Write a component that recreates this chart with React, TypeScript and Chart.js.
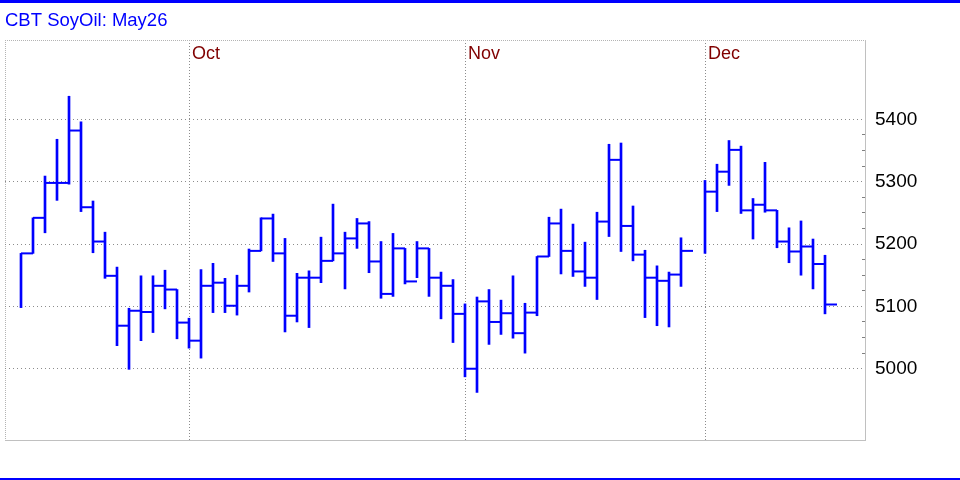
import { useEffect, useRef } from 'react';
import { Chart, registerables } from 'chart.js';

Chart.register(...registerables);

const chartTitle = 'CBT SoyOil: May26';

// One entry per trading-session slot; null marks the holiday gap.
const highs: (number | null)[] = [
  5185, 5242, 5309, 5368, 5437, 5396, 5269, 5219, 5163, 5097,
  5149, 5149, 5158, 5127, 5081, 5159, 5169, 5145, 5150, 5192,
  5242, 5248, 5209, 5153, 5157, 5211, 5264, 5219, 5241, 5236,
  5204, 5217, 5193, 5204, 5193, 5155, 5143, 5104, 5115, 5127,
  5110, 5149, 5105, 5180, 5243, 5256, 5232, 5203, 5251, 5360,
  5362, 5261, 5190, 5165, 5155, 5210, null, 5302, 5328, 5366,
  5357, 5273, 5331, 5254, 5226, 5237, 5208, 5182,
];
const lows: (number | null)[] = [
  5098, 5185, 5218, 5270, 5296, 5252, 5186, 5145, 5037, 4999,
  5045, 5058, 5096, 5048, 5033, 5017, 5090, 5090, 5086, 5123,
  5189, 5172, 5059, 5075, 5066, 5138, 5173, 5128, 5193, 5154,
  5113, 5116, 5136, 5146, 5116, 5080, 5042, 4987, 4962, 5039,
  5055, 5049, 5025, 5085, 5180, 5152, 5148, 5132, 5111, 5212,
  5188, 5173, 5082, 5069, 5067, 5132, null, 5185, 5252, 5294,
  5249, 5208, 5251, 5194, 5170, 5150, 5128, 5088,
];
const closes: (number | null)[] = [
  5185, 5242, 5298, 5298, 5382, 5259, 5204, 5149, 5069, 5093,
  5091, 5133, 5127, 5074, 5045, 5133, 5138, 5101, 5133, 5189,
  5241, 5185, 5085, 5146, 5146, 5173, 5185, 5209, 5233, 5172,
  5120, 5193, 5140, 5193, 5146, 5133, 5088, 5000, 5108, 5075,
  5089, 5057, 5090, 5180, 5233, 5189, 5156, 5146, 5236, 5335,
  5229, 5183, 5146, 5141, 5151, 5189, null, 5284, 5316, 5351,
  5254, 5263, 5254, 5204, 5188, 5196, 5168, 5103,
];

// Month start slots and their labels.
const monthSlots = [14, 37, 57];
const monthLabels = ['Oct', 'Nov', 'Dec'];

// Price axis labels.
const priceLabels = [5000, 5100, 5200, 5300, 5400];
const minorStep = 25;

const X_MIN = -4 / 3;
const X_MAX = 70.3333;
const Y_MIN = 4885.7;
const Y_MAX = 5527.2;

const BLUE = '#0000ff';

export default function App() {
  const canvasRef = useRef<HTMLCanvasElement | null>(null);

  useEffect(() => {
    document.body.style.margin = '0';
    const canvas = canvasRef.current;
    if (!canvas) return;

    Chart.defaults.font.family = "'Liberation Sans', Arial, sans-serif";

    const barPoints: { x: number; y: [number, number] }[] = [];
    const closePoints: { x: number; y: number }[] = [];
    highs.forEach((h, i) => {
      const l = lows[i];
      const c = closes[i];
      if (h == null || l == null || c == null) return;
      barPoints.push({ x: i, y: [l, h] });
      closePoints.push({ x: i + 0.5, y: c });
    });

    const yTickValues: number[] = [Y_MIN];
    for (let v = priceLabels[0]; v <= priceLabels[priceLabels.length - 1]; v += minorStep) {
      yTickValues.push(v);
    }
    yTickValues.push(Y_MAX);
    const xTickValues = [X_MIN, ...monthSlots];

    const chart = new Chart(canvas, {
      type: 'bar',
      data: {
        datasets: [
          {
            type: 'bar',
            data: barPoints as any,
            backgroundColor: BLUE,
            borderWidth: 0,
            barThickness: 2,
            xAxisID: 'x',
            yAxisID: 'y',
          } as any,
          {
            type: 'scatter',
            data: closePoints,
            pointStyle: 'line',
            pointRadius: 6,
            pointBorderColor: BLUE,
            pointBorderWidth: 2,
            pointBackgroundColor: BLUE,
            borderColor: BLUE,
            showLine: false,
            xAxisID: 'x',
            yAxisID: 'y',
          } as any,
        ],
      },
      options: {
        responsive: false,
        animation: false,
        devicePixelRatio: 1,
        events: [],
        layout: { autoPadding: false, padding: { left: 5, right: 0, top: 0, bottom: 38 } },
        plugins: {
          legend: { display: false },
          tooltip: { enabled: false },
          title: {
            display: true,
            text: chartTitle,
            align: 'start',
            color: BLUE,
            font: { size: 18.5, weight: 'normal', lineHeight: 1.2 },
            padding: { top: 6.6, bottom: 8.2 },
          },
        },
        scales: {
          x: {
            type: 'linear',
            position: 'top',
            min: X_MIN,
            max: X_MAX,
            offset: false,
            grid: {
              offset: false,
              drawTicks: false,
              lineWidth: 1,
              color: (ctx: any) =>
                ctx.tick && ctx.tick.value === X_MIN ? '#b4b4b4' : '#8c8c8c',
            },
            border: {
              display: false,
              dash: (ctx: any) =>
                ctx.tick && ctx.tick.value === X_MIN ? [1, 1] : [1, 2],
            },
            ticks: {
              mirror: true,
              padding: 0,
              align: 'start',
              labelOffset: 3,
              autoSkip: false,
              maxRotation: 0,
              color: '#800000',
              font: { size: 18, lineHeight: 1.55 },
              callback: (value: any) => {
                const idx = monthSlots.indexOf(Number(value));
                return idx >= 0 ? monthLabels[idx] : '';
              },
            },
            afterBuildTicks: (scale: any) => {
              scale.ticks = xTickValues.map((v) => ({ value: v }));
            },
          } as any,
          y: {
            type: 'linear',
            position: 'right',
            min: Y_MIN,
            max: Y_MAX,
            grid: {
              lineWidth: 1,
              drawTicks: true,
              tickLength: -3,
              tickWidth: 1,
              color: (ctx: any) => {
                const v = ctx.tick ? ctx.tick.value : NaN;
                if (v === Y_MIN) return '#c0c0c0';
                if (v === Y_MAX) return '#b4b4b4';
                if (priceLabels.includes(v)) return '#8c8c8c';
                return 'rgba(0,0,0,0)';
              },
              tickColor: (ctx: any) => {
                const v = ctx.tick ? ctx.tick.value : NaN;
                if (v === Y_MIN || v === Y_MAX || priceLabels.includes(v)) return 'rgba(0,0,0,0)';
                return '#808080';
              },
            },
            border: {
              display: true,
              color: '#c0c0c0',
              width: 1,
              dash: (ctx: any) => {
                const v = ctx.tick ? ctx.tick.value : NaN;
                if (v === Y_MIN) return [];
                if (v === Y_MAX) return [1, 1];
                return [1, 3];
              },
            },
            ticks: {
              padding: 13,
              autoSkip: false,
              color: '#000000',
              font: { size: 19 },
              callback: (value: any) =>
                priceLabels.includes(Number(value)) ? String(value) : '',
            },
            afterBuildTicks: (scale: any) => {
              scale.ticks = yTickValues.map((v) => ({ value: v }));
            },
            afterFit: (scale: any) => {
              scale.width = 95;
            },
          } as any,
        },
      },
    });

    return () => {
      chart.destroy();
    };
  }, []);

  return (
    <div
      style={{
        width: 960,
        height: 480,
        boxSizing: 'border-box',
        borderTop: `3px solid ${BLUE}`,
        borderBottom: `2px solid ${BLUE}`,
        background: '#ffffff',
      }}
    >
      <canvas ref={canvasRef} width={960} height={475} style={{ display: 'block' }} />
    </div>
  );
}
